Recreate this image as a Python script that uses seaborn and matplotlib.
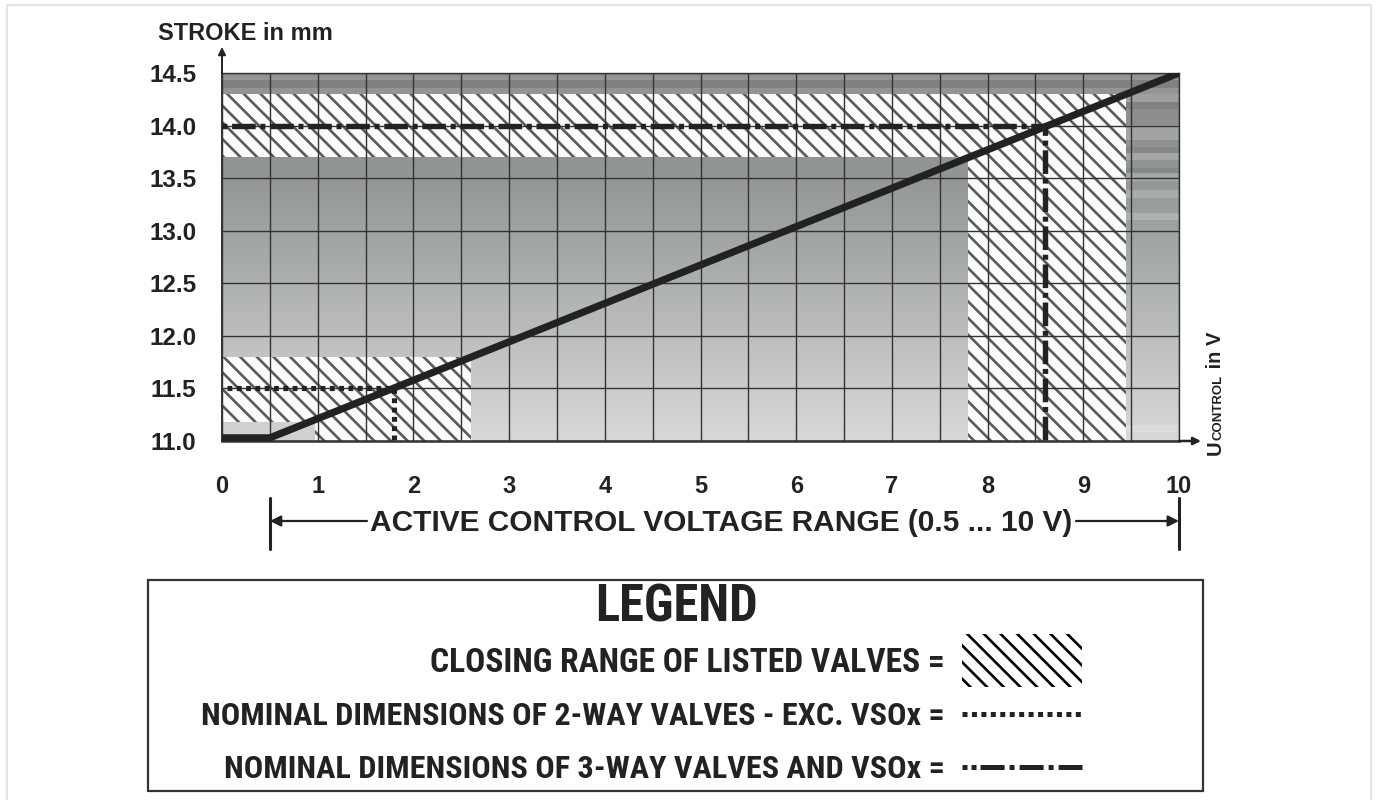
import numpy as np
import matplotlib
matplotlib.use("Agg")
import matplotlib.pyplot as plt
import seaborn as sns
from matplotlib.patches import Rectangle
from matplotlib import transforms, font_manager
from matplotlib.font_manager import FontProperties
from matplotlib.colors import LinearSegmentedColormap
from matplotlib.ticker import MultipleLocator, FixedLocator

# ---------------- data ----------------
stroke_x = [0.0, 0.5, 10.0]            # control voltage (V)
stroke_y = [11.03, 11.03, 14.5]        # stroke (mm)

guide_2way_x = [0.05, 1.8, 1.8]        # 2-way valves nominal point
guide_2way_y = [11.5, 11.5, 11.0]
guide_3way_x = [0.0, 8.6, 8.6]         # 3-way valves / VSOx nominal point
guide_3way_y = [14.0, 14.0, 11.0]

closing_x0 = [0.0, 7.8, 0.0]           # closing ranges of listed valves
closing_x1 = [9.45, 9.45, 2.6]
closing_y0 = [13.7, 11.0, 11.0]
closing_y1 = [14.3, 13.7, 11.8]

x_ticks = [0, 1, 2, 3, 4, 5, 6, 7, 8, 9, 10]
x_tick_labels = ["0", "1", "2", "3", "4", "5", "6", "7", "8", "9", "10"]
y_ticks = [11.0, 11.5, 12.0, 12.5, 13.0, 13.5, 14.0, 14.5]
y_tick_labels = ["11.0", "11.5", "12.0", "12.5", "13.0", "13.5", "14.0", "14.5"]

active_range = [0.5, 10.0]

y_label = "STROKE in mm"
range_label = "ACTIVE CONTROL VOLTAGE RANGE (0.5 ... 10 V)"
legend_title = "LEGEND"
legend_rows = ["CLOSING RANGE OF LISTED VALVES =",
               "NOMINAL DIMENSIONS OF 2-WAY VALVES - EXC. VSOx =",
               "NOMINAL DIMENSIONS OF 3-WAY VALVES AND VSOx ="]

# ---------------- style ----------------
sns.set_style("white")
flist = font_manager.fontManager.ttflist
names = {f.name for f in flist}
MAIN = "Liberation Sans" if "Liberation Sans" in names else "DejaVu Sans"
plt.rcParams["font.family"] = [MAIN, "DejaVu Sans"]
plt.rcParams["hatch.linewidth"] = 1.9
plt.rcParams["lines.scale_dashes"] = False
INK = "#222222"


def _is_bold(f):
    w = f.weight
    if isinstance(w, str):
        return w in ("bold", "heavy", "black", "extra bold", "demibold", "semibold")
    return w >= 600


def _upright(f):
    return str(f.style) == "normal" and "italic" not in f.fname.lower()


NARROW_FP = None
for fam in ["Roboto Condensed", "PT Sans Narrow", "Fira Sans Condensed",
            "IBM Plex Sans Condensed", "Open Sans Condensed", "Barlow Condensed",
            "Encode Sans Condensed", "Asap Condensed", "Archivo Narrow"]:
    hits = [f for f in flist if f.name == fam and _is_bold(f) and _upright(f)]
    if hits:
        hits.sort(key=lambda f: abs((f.weight if isinstance(f.weight, int) else 700) - 700))
        NARROW_FP = FontProperties(fname=hits[0].fname)
        break

W, H = 1377, 800
fig = plt.figure(figsize=(W / 100, H / 100), dpi=100)
fig.patch.set_facecolor("white")


def fx(px):
    return px / W


def fy(py):
    return 1 - py / H


ax_l, ax_r, ax_t, ax_b = 222, 1179, 73, 441
ax = fig.add_axes([fx(ax_l), fy(ax_b), (ax_r - ax_l) / W, (ax_b - ax_t) / H])
ax.set_xlim(0, 10)
ax.set_ylim(11.0, 14.5)

# background gradient
cmap = LinearSegmentedColormap.from_list(
    "bg", [(0.0, "#d7d8d8"), (0.23, "#c2c4c4"), (0.45, "#abaeaf"),
           (0.72, "#939697"), (1.0, "#87898a")])
grad = np.linspace(0, 1, 256).reshape(-1, 1)
ax.imshow(grad, extent=(0, 10, 11.0, 14.5), origin="lower", aspect="auto",
          cmap=cmap, zorder=0, interpolation="bilinear")

# top band
ax.add_patch(Rectangle((0, 14.3), 10, 0.2, facecolor="#929496", lw=0, zorder=0.5))
ax.add_patch(Rectangle((0, 14.36), 10, 0.07, facecolor="#7f8183", lw=0, zorder=0.6))

# right strip horizontal stripes
strip_light = [(14.22, 14.30), (13.94, 14.01), (13.86, 13.94), (13.67, 13.74),
               (13.47, 13.55), (13.31, 13.39), (13.10, 13.17), (11.09, 11.15)]
strip_dark = [(14.16, 14.22), (13.74, 13.80), (13.55, 13.60)]
for y0, y1 in strip_light:
    ax.add_patch(Rectangle((9.45, y0), 0.55, y1 - y0, facecolor="white",
                           alpha=0.18, lw=0, zorder=0.7))
for y0, y1 in strip_dark:
    ax.add_patch(Rectangle((9.45, y0), 0.55, y1 - y0, facecolor="black",
                           alpha=0.07, lw=0, zorder=0.7))

# closing ranges (hatched)
for x0, x1, y0, y1 in zip(closing_x0, closing_x1, closing_y0, closing_y1):
    ax.add_patch(Rectangle((x0, y0), x1 - x0, y1 - y0, facecolor="#fbfbfb",
                           edgecolor="#5a5a5a", hatch="\\\\", lw=0, zorder=1))
ax.add_patch(Rectangle((0, 11.0), 0.97, 0.18, facecolor="#cfd0d0", lw=0, zorder=1.2))

# grid / ticks
ax.set_axisbelow(False)
ax.xaxis.set_major_locator(FixedLocator(x_ticks))
ax.xaxis.set_minor_locator(MultipleLocator(0.5))
ax.yaxis.set_major_locator(FixedLocator(y_ticks))
ax.set_xticklabels(x_tick_labels)
ax.set_yticklabels(y_tick_labels)
ax.grid(True, which="both", axis="x", color="#333333", lw=1.0)
ax.grid(True, which="major", axis="y", color="#333333", lw=1.0)
ax.tick_params(axis="x", which="major", direction="out", length=21, width=1.0,
               color="#333333", pad=3.5, labelsize=17, labelcolor=INK)
ax.tick_params(axis="x", which="minor", direction="out", length=11.5, width=1.0,
               color="#333333")
ax.tick_params(axis="y", which="major", direction="out", length=17, width=1.0,
               color="#333333", pad=1.5, labelsize=17.5, labelcolor=INK)
for lab in ax.get_xticklabels() + ax.get_yticklabels():
    lab.set_fontweight("bold")
for s in ax.spines.values():
    s.set_color("#333333")
    s.set_linewidth(1.0)
ax.spines["bottom"].set_linewidth(1.8)
ax.spines["left"].set_linewidth(1.4)

# guide lines
sns.lineplot(x=guide_2way_x, y=guide_2way_y, ax=ax, estimator=None, sort=False,
             color=INK, lw=3.7, linestyle=(0, (3.5, 3.2)), zorder=3)
ax.lines[-1].set_dash_capstyle("butt")
sns.lineplot(x=guide_3way_x, y=guide_3way_y, ax=ax, estimator=None, sort=False,
             color=INK, lw=3.9, linestyle=(20.5, (17.0, 3.4, 3.6, 3.4)), zorder=3)
ax.lines[-1].set_dash_capstyle("butt")

# main characteristic
sns.lineplot(x=stroke_x, y=stroke_y, ax=ax, estimator=None, sort=False,
             color=INK, lw=5.2, zorder=4)
ax.lines[-1].set_solid_capstyle("butt")
ax.set_xlabel("")
ax.set_ylabel("")

# axis arrows
ax.annotate("", xy=(0, 14.5 + 26 / 105.1), xytext=(0, 14.5), xycoords="data",
            arrowprops=dict(arrowstyle="-|>", color=INK, lw=1.4,
                            mutation_scale=11, shrinkA=0, shrinkB=0),
            annotation_clip=False)
ax.annotate("", xy=(10 + 22 / 95.7, 11.0), xytext=(10, 11.0), xycoords="data",
            arrowprops=dict(arrowstyle="-|>", color=INK, lw=1.8,
                            mutation_scale=11, shrinkA=0, shrinkB=0),
            annotation_clip=False)

fig.text(fx(158), fy(34), y_label, fontsize=17, fontweight="bold", color=INK,
         ha="left", va="center")

# active range annotation
trans = transforms.blended_transform_factory(ax.transData, fig.transFigure)
ry = fy(521)
for xv in active_range:
    ax.plot([xv, xv], [fy(549), fy(498)], transform=trans, color=INK, lw=2.2,
            clip_on=False)
txt_l = (367 - ax_l) / 95.7
txt_r = (1076 - ax_l) / 95.7
for xv, xt in ((active_range[0], txt_l), (active_range[1], txt_r)):
    ax.annotate("", xy=(xv, ry), xytext=(xt, ry), xycoords=trans, textcoords=trans,
                arrowprops=dict(arrowstyle="-|>", color=INK, lw=1.6,
                                mutation_scale=16, shrinkA=0, shrinkB=0),
                annotation_clip=False)
ax.text((txt_l + txt_r) / 2, fy(523), range_label, transform=trans,
        fontsize=21.5, fontweight="bold", color=INK, ha="center", va="center")

# rotated U_CONTROL label
fig.canvas.draw()
r = fig.canvas.get_renderer()
bx, by = fx(1221), fy(455)
t1 = fig.text(bx, by, "U", rotation=90, rotation_mode="anchor", ha="left",
              va="baseline", fontsize=14.5, fontweight="bold", color=INK)
h1 = t1.get_window_extent(r).height / H
t2 = fig.text(bx, by + h1 + 0.001, "CONTROL", rotation=90, rotation_mode="anchor",
              ha="left", va="baseline", fontsize=9.5, fontweight="bold", color=INK)
h2 = t2.get_window_extent(r).height / H
fig.text(bx, by + h1 + h2 + 0.002, " in V", rotation=90, rotation_mode="anchor",
         ha="left", va="baseline", fontsize=14.5, fontweight="bold", color=INK)

# legend box
fig.patches.append(Rectangle((fx(148), fy(791)), (1203 - 148) / W, (791 - 580) / H,
                             transform=fig.transFigure, facecolor="white",
                             edgecolor="#333333", lw=1.6, zorder=1))


def legend_text(x, y, s, size, ha, target_w):
    if NARROW_FP is not None:
        fp = NARROW_FP.copy()
        fp.set_size(size)
        t = fig.text(x, y, s, fontproperties=fp, color=INK, ha=ha, va="center")
    else:
        t = fig.text(x, y, s, fontsize=size, fontweight="bold", color=INK,
                     ha=ha, va="center")
    w = t.get_window_extent(r).width
    t.set_fontsize(size * target_w / w)
    return t


legend_text(fx(676), fy(608), legend_title, 33, "center", 163)
row_y = [663, 716, 769]
row_w = [517, 746, 725]
for txt, yy, ww in zip(legend_rows, row_y, row_w):
    legend_text(fx(945), fy(yy), txt, 23, "right", ww)
fig.patches.append(Rectangle((fx(962), fy(687)), 120 / W, 53 / H,
                             transform=fig.transFigure, facecolor="white",
                             edgecolor="black", hatch="\\\\", lw=0, zorder=2))
fig.lines.append(plt.Line2D([fx(962), fx(1082)], [fy(714), fy(714)],
                            transform=fig.transFigure, color=INK, lw=3.6,
                            linestyle=(0, (3.6, 3.2)), dash_capstyle="butt"))
# dot, dot, dash, dot, dash, dot, dash  (points)
fig.lines.append(plt.Line2D([fx(962), fx(1082)], [fy(767), fy(767)],
                            transform=fig.transFigure, color=INK, lw=3.6,
                            linestyle=(0, (3.6, 2.9, 3.6, 2.9, 17.3, 3.6,
                                           3.6, 3.6, 17.3, 3.6, 3.6, 3.6, 17.3, 3.6)),
                            dash_capstyle="butt"))

# outer light frame
for xs, ys in [([7, 7], [5, 800]), ([7, 1371], [5, 5]), ([1371, 1371], [5, 800])]:
    fig.lines.append(plt.Line2D([fx(v) for v in xs], [fy(v) for v in ys],
                                transform=fig.transFigure, color="#e4e4e4", lw=1.5))

fig.savefig("out.png", dpi=100)
